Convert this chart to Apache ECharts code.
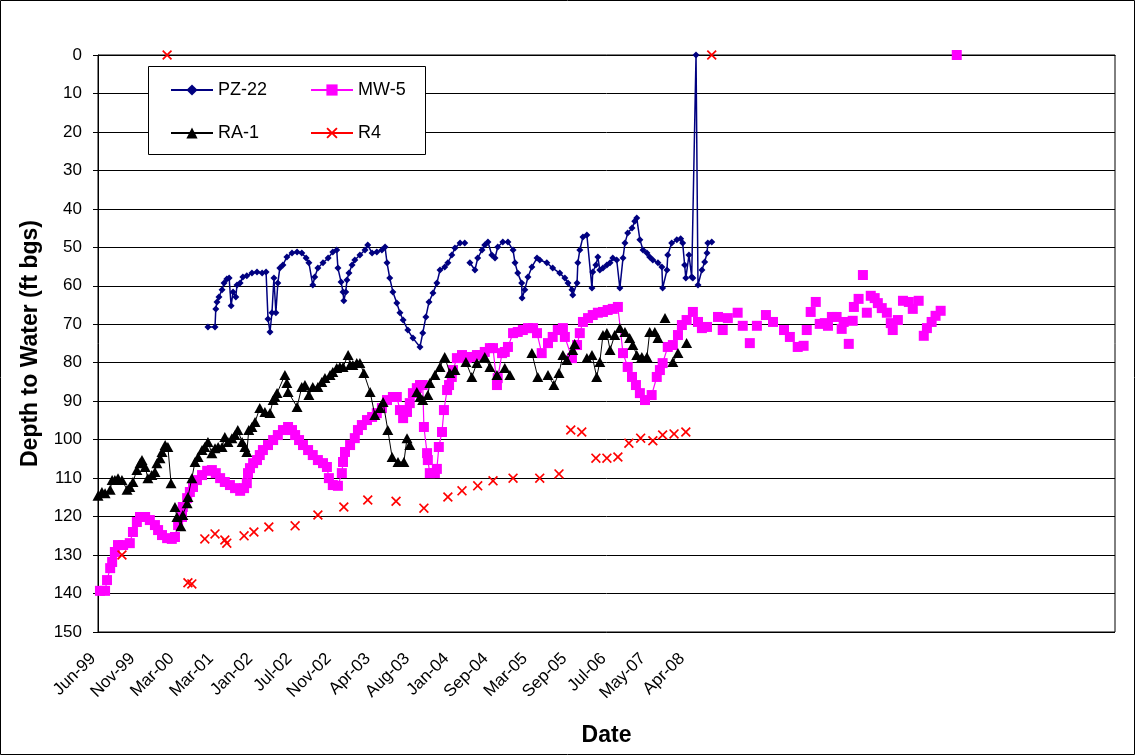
<!DOCTYPE html>
<html>
<head>
<meta charset="utf-8">
<script src="https://cdn.jsdelivr.net/npm/echarts@6/dist/echarts.min.js"></script>
<style>
  html, body { margin: 0; padding: 0; background: #ffffff; }
  #chart { width: 1135px; height: 755px; }
</style>
</head>
<body>
<div id="chart"></div>
<script>
// Date labels shown every LABEL_STEP rows of the record sheet
const dateLabels = ['Jun-99', 'Nov-99', 'Mar-00', 'Mar-01', 'Jan-02', 'Jul-02', 'Nov-02', 'Apr-03',
  'Aug-03', 'Jan-04', 'Sep-04', 'Mar-05', 'Sep-05', 'Jul-06', 'May-07', 'Apr-08'];
const LABEL_STEP = 10;
const ROW_COUNT = 259;

// Depth to water (ft bgs) as [record row, depth]; null marks a break in the record
const pz22 = [
  [28.0, 70.7], [29.8, 70.7], [30.0, 66], [30.3, 64.2], [30.8, 62.9], [31.6, 61], [32.1, 59.3],
  [32.8, 58.2], [33.4, 58], [33.9, 65.2], [34.4, 61.6], [35.1, 62.9], [35.4, 59.8], [36.2, 59.3],
  [36.9, 57.7], [37.9, 57.4], [39.2, 56.7], [40.5, 56.4], [41.8, 56.7], [42.8, 56.4], [43.3, 68.6],
  [43.8, 72], [44.3, 67], [44.8, 58], [45.3, 67], [45.8, 59.3], [46.3, 55.4], [47.1, 54.6],
  [48.1, 52.5], [49.4, 51.5], [50.7, 51.2], [51.9, 51.5], [53.0, 52.8], [53.7, 54], [54.7, 59.8],
  [55.2, 57.7], [56.0, 55.4], [57.3, 54], [58.6, 52.8], [59.8, 51.2], [60.8, 50.7], [61.1, 55.4],
  [61.9, 59], [62.4, 61.6], [62.6, 63.9], [63.1, 61.6], [63.4, 58.5], [63.9, 56.7], [64.7, 54.6],
  [65.4, 53.3], [66.7, 52], [68.0, 50.7], [68.7, 49.4], [69.8, 51.5], [71.0, 51.2], [72.3, 50.7],
  [73.1, 49.9], [73.6, 54], [74.3, 58], [75.1, 61.6], [76.1, 64.5], [76.9, 67], [77.7, 68.9],
  [78.9, 71.5], [80.2, 73.6], [82.0, 75.9], [82.7, 72.3], [83.5, 68.1], [84.3, 64.2], [85.3, 61.9],
  [86.3, 59.3], [87.1, 55.9], [88.3, 55.1], [89.1, 54], [90.1, 52], [90.9, 50.2], [92.2, 48.9],
  [93.4, 48.9], null,
  [94.7, 54], [96.0, 55.9], [96.7, 52.8], [97.8, 50.7], [98.5, 49.4], [99.3, 48.6], [100.3, 52],
  [101.1, 52.8], [101.8, 49.9], [103.1, 48.6], [104.4, 48.6], [105.7, 50.7], [106.2, 54],
  [106.9, 56.7], [107.9, 59.3], [108.0, 63.2], [108.7, 61], [109.5, 57.7], [110.5, 55.1],
  [111.8, 52.8], [112.5, 53.3], [114.3, 54], [115.8, 55.4], [117.6, 56.7], [118.9, 58], [119.7, 59.3],
  [120.7, 61], [120.9, 62.4], [122.0, 59.3], [122.2, 54], [122.7, 50.7], [123.5, 47.3], [124.5, 46.8],
  [125.8, 60.6], [126.0, 56.4], [126.8, 54.6], [127.3, 52.5], [127.8, 55.9], [128.6, 55.4],
  [129.6, 54.6], [130.4, 54], [131.1, 52.8], [132.1, 53.3], [132.9, 60.6], [133.7, 52.8],
  [134.2, 48.9], [134.9, 46.3], [136.0, 45], [136.7, 43.2], [137.2, 42.4], [138.0, 48], [138.8, 50.7],
  [139.8, 51.5], [140.5, 52.5], [141.3, 53.3], [142.6, 54], [143.6, 55.1], [143.8, 60.6],
  [144.9, 55.9], [145.1, 52], [146.1, 48.9], [147.4, 48], [148.4, 47.8], [148.9, 48.9], [149.4, 54.6],
  [149.7, 58], [150.5, 52], [151.2, 57.7], [151.5, 58], [152.3, 0], [152.8, 59.8], [153.8, 55.9],
  [154.5, 53.8], [155.1, 51.5], [155.3, 48.9], [156.3, 48.6]
];

const mw5 = [
  [0.5, 139.3], [1.8, 139.3], [2.3, 136.5], [3.1, 133.4], [3.6, 131.8], [4.3, 129.2], [5.1, 127.4],
  [6.4, 127.4], [8.1, 126.9], [8.9, 124], [9.9, 121.4], [10.7, 120.1], [12.0, 120.1], [13.2, 120.9],
  [14.5, 122.2], [15.3, 123.5], [16.3, 124.8], [17.6, 125.6], [18.8, 125.8], [19.6, 125.3],
  [20.4, 122.2], [21.4, 120.1], [21.6, 117.5], [22.7, 115.2], [23.4, 113.6], [24.2, 112.3],
  [25.2, 110.5], [26.5, 109.2], [27.8, 108.1], [29.0, 107.9], [30.0, 108.7], [31.1, 110],
  [32.3, 111], [33.6, 111.8], [34.9, 112.6], [36.2, 113.3], [37.2, 112.6], [37.9, 111.3],
  [38.2, 108.7], [38.7, 107.4], [39.5, 106.1], [40.5, 105.3], [41.2, 104], [42.0, 102.7],
  [43.3, 101.4], [44.6, 100.1], [45.8, 98.8], [47.1, 97.5], [48.4, 96.7], [49.4, 97.5], [50.2, 98.8],
  [51.2, 100.1], [52.2, 101.4], [53.5, 102.7], [54.7, 104], [56.0, 105.3], [57.3, 106.1],
  [58.3, 107.1], [58.8, 110], [59.8, 111.8], [61.1, 112], [62.1, 108.7], [62.4, 105.8], [62.9, 103.2],
  [64.2, 101.4], [65.4, 99.6], [66.2, 97.5], [67.2, 96.2], [68.5, 94.9], [69.8, 94.1], [71.0, 93.1],
  [72.3, 91.8], [73.6, 89.7], [75.1, 88.9], [76.1, 88.9], [76.9, 92.3], [77.7, 94.4], [78.7, 92.8],
  [79.4, 90.5], [80.2, 87.9], [81.2, 86.6], [82.0, 85.8], [82.7, 85.8], [83.0, 96.7], [83.8, 103.5],
  [84.0, 105.3], [84.5, 108.7], [85.8, 108.7], [86.3, 107.6], [86.8, 101.9], [87.6, 98], [88.1, 92.3],
  [88.9, 87.1], [89.4, 85.8], [90.1, 83.7], [90.4, 81.9], [91.4, 78.8], [92.7, 78], [93.9, 78.8],
  [95.2, 78.5], [96.5, 78], [97.3, 78], [98.5, 77.2], [99.8, 76.2], [100.6, 76.2], [101.6, 85.8],
  [101.8, 84], [102.9, 77.5], [103.6, 77.2], [104.4, 75.9], [105.7, 72.3], [106.9, 72], [108.2, 71.5],
  [109.5, 71], [110.8, 71], [111.8, 72.3], [113.0, 77.5], [114.6, 74.9], [115.8, 73.3], [117.1, 71.5],
  [118.4, 71], [118.9, 73.3], [120.7, 78.8], [122.0, 75.4], [122.7, 72.3], [123.5, 69.4],
  [124.8, 68.4], [126.0, 67.6], [127.3, 67], [128.6, 66.8], [129.8, 66.3], [131.1, 66], [132.4, 65.5],
  [133.7, 77.5], [134.9, 81.1], [136.0, 83.7], [137.0, 85.8], [138.0, 87.9], [139.3, 89.7],
  [141.0, 88.4], [142.3, 83.7], [143.1, 81.9], [143.8, 80.1], [145.1, 75.9], [146.4, 75.4],
  [147.7, 72.8], [148.7, 70.2], [149.9, 68.9], [151.5, 66.8], [152.8, 69.4], [153.8, 71], [155.1, 70.7]
];

// Later MW-5 readings, each on its own row
const mw5Late = [
  [157.9, 68.1], [159.1, 71.5], [160.4, 68.4], [162.9, 67], [164.2, 70.4], [166.0, 74.9],
  [167.8, 70.4], [170.1, 67.6], [171.9, 69.4], [174.7, 71.5], [176.2, 73.3], [178.2, 75.9],
  [179.7, 75.6], [180.5, 71.5], [181.5, 66.8], [182.8, 64.2], [183.8, 69.9], [185.1, 69.7],
  [185.9, 70.4], [186.9, 68.1], [188.1, 68.1], [189.4, 71.2], [189.9, 69.4], [191.2, 75.1],
  [192.2, 69.1], [192.5, 65.5], [193.7, 63.4], [194.8, 57.2], [195.8, 67], [196.8, 62.6],
  [197.8, 63.2], [198.6, 64.5], [199.6, 65.8], [200.9, 67], [201.9, 69.7], [202.4, 71.5],
  [203.7, 68.9], [205.0, 63.9], [206.5, 64.2], [207.5, 66], [209.0, 63.9], [210.3, 73], [211.1, 71],
  [212.3, 69.4], [213.3, 67.8], [214.6, 66.5], [218.7, 0]
];

const ra1 = [
  [0, 114.6], [1.0, 113.6], [1.8, 113.9], [3.1, 113], [3.6, 110.5], [4.3, 110.5], [5.1, 110],
  [6.1, 110.5], [7.4, 113], [8.1, 112.3], [8.9, 111], [9.9, 107.9], [10.7, 106.1], [11.2, 105.3],
  [12.0, 107.1], [12.7, 110], [13.7, 109.2], [14.5, 108.4], [15.0, 106.1], [15.8, 104.8],
  [16.3, 103.2], [17.1, 101.4], [17.8, 101.9], [18.6, 111.3], null,
  [19.6, 117.5], [20.1, 120.1], [21.1, 122.5], [21.6, 119.6], [22.7, 116.5], [22.9, 114.9],
  [23.9, 110], [24.7, 105.8], [25.5, 104.5], [26.5, 102.7], [27.2, 101.9], [28.0, 100.6],
  [29.0, 103.5], [29.8, 102.2], [30.6, 101.9], [31.6, 101.9], [32.3, 99.3], [33.1, 100.6],
  [34.1, 99.6], [34.9, 98.8], [35.6, 97.5], [36.7, 100.6], [37.4, 101.9], [37.9, 103.2],
  [38.4, 97.5], [39.2, 96.7], [40.0, 95.4], [41.2, 91.8], [42.5, 92.8], [43.8, 93.1], [44.6, 89.7],
  [45.1, 88.9], [45.6, 87.9], [47.6, 83.2], [48.1, 85.3], [48.4, 87.6], [50.7, 91.5], [51.9, 86.3],
  [52.7, 85.8], [53.7, 88.4], [54.7, 86.3], [56.0, 86.3], [57.0, 85], [57.8, 84], [59.1, 83.2],
  [59.8, 82.4], [60.8, 81.4], [61.6, 81.1], [62.4, 81.1], [63.7, 78], [64.2, 80.6], [64.9, 80.6],
  [65.9, 80.1], [66.7, 80.1], [67.7, 82.7], [69.3, 87.6], [70.5, 93.6], [71.8, 91.8], [72.6, 90.2],
  [73.8, 97.5], [74.9, 104.5], [76.4, 105.8], [77.9, 105.8], [78.7, 99.6], [79.4, 101.4], null,
  [81.2, 87.6], [82.0, 88.9], [82.7, 89.7], [84.0, 88.4], [84.5, 85.3], [85.8, 83.2], [87.1, 81.1],
  [88.3, 78.5], [89.6, 82.7], [90.9, 81.9], null,
  [93.7, 79.8], [95.2, 83.7], [96.5, 80.1], [98.5, 78.5], [99.8, 81.1], [101.6, 83.2], [103.6, 81.4],
  [104.9, 83.2], null,
  [110.5, 77.5], [112.0, 83.7], null, [114.6, 83.2], [116.1, 85.8], [117.4, 82.7], [118.4, 78],
  [119.4, 79.3], [120.9, 76.7], [121.4, 75.1], null,
  [124.5, 78.8], [125.8, 78], [127.0, 83.7], [127.8, 79.8], [128.6, 72.8], [129.6, 72.3],
  [130.4, 76.7], [131.6, 72.8], [132.9, 71], [134.2, 72], [135.4, 73.6], [136.2, 75.4], [137.2, 78],
  [138.5, 78.5], [139.8, 78.5], [140.5, 72], [141.8, 72], [142.6, 73.6], null, [144.4, 68.4], null,
  [146.4, 79.8], [147.7, 77.5], null, [149.9, 74.9]
];

const r4 = [
  [6.1, 130], [17.6, 0], [22.9, 137.2], [23.9, 137.5], [27.2, 125.8], [29.8, 124.5], [32.3, 126.1],
  [32.8, 126.9], [37.2, 125], [39.7, 124], [43.5, 122.7], [50.2, 122.4], [56.0, 119.6], [62.6, 117.5],
  [68.7, 115.7], [75.9, 116], [83.0, 117.8], [89.1, 114.9], [92.7, 113.3], [96.7, 112], [100.6, 110.7],
  [105.7, 110], [112.5, 110], [117.4, 108.9], [120.4, 97.5], [123.2, 98], [126.8, 104.8],
  [129.6, 104.8], [132.4, 104.5], [135.2, 100.9], [138.2, 99.6], [141.3, 100.3], [143.8, 98.8],
  [146.7, 98.5], [149.7, 98], [156.3, 0]
];

// Readings with no neighbour on the next row get no connecting line
function separated(points) {
  const out = [];
  points.forEach(function (p, i) { if (i) out.push(null); out.push(p); });
  return out;
}

const FONT = '"Liberation Sans", Arial, sans-serif';
const X_MARK = 'path://M0,1.2 L1.2,0 L5,3.8 L8.8,0 L10,1.2 L6.2,5 L10,8.8 L8.8,10 L5,6.2 L1.2,10 L0,8.8 L3.8,5 Z';

const legendCommon = {
  orient: 'vertical', top: 81, itemGap: 25, itemWidth: 42, itemHeight: 14, padding: 0,
  textStyle: { fontFamily: FONT, fontSize: 18, color: '#000' }, z: 5
};

const chart = echarts.init(document.getElementById('chart'), null, { renderer: 'canvas' });

chart.setOption({
  backgroundColor: '#ffffff',
  animation: false,
  textStyle: { fontFamily: FONT, color: '#000' },
  grid: {
    left: 98, top: 55, right: 20, bottom: 123,
    show: true, borderColor: '#000', borderWidth: 1, backgroundColor: 'transparent'
  },
  graphic: [
    {
      type: 'rect', z: 0, silent: true,
      shape: { x: 0.5, y: 0.5, width: 1134, height: 754 },
      style: { fill: 'none', stroke: '#000', lineWidth: 1 }
    },
    {
      type: 'rect', z: 3, silent: true,
      shape: { x: 148.5, y: 66.5, width: 277, height: 88 },
      style: { fill: '#fff', stroke: '#000', lineWidth: 1 }
    }
  ],
  legend: [
    Object.assign({ left: 170, data: ['PZ-22', 'RA-1'] }, legendCommon),
    Object.assign({ left: 310, data: ['MW-5', 'R4'] }, legendCommon)
  ],
  xAxis: {
    type: 'value', min: 0, max: ROW_COUNT, interval: LABEL_STEP,
    name: 'Date', nameLocation: 'middle', nameGap: 92,
    nameTextStyle: { fontFamily: FONT, fontSize: 23, fontWeight: 'bold', color: '#000' },
    axisLine: { show: true, lineStyle: { color: '#000', width: 1 } },
    axisTick: { show: false },
    splitLine: { show: false },
    axisLabel: {
      rotate: 45, margin: 19, padding: [0, 7, 0, 0],
      fontFamily: FONT, fontSize: 17, color: '#000',
      showMaxLabel: false,
      formatter: function (v) {
        const k = Math.round(v / LABEL_STEP);
        return Math.abs(v - k * LABEL_STEP) < 1e-6 && dateLabels[k] ? dateLabels[k] : '';
      }
    }
  },
  yAxis: {
    type: 'value', inverse: true, min: 0, max: 150, interval: 10,
    name: 'Depth to Water (ft bgs)', nameLocation: 'middle', nameGap: 56,
    nameTextStyle: { fontFamily: FONT, fontSize: 23, fontWeight: 'bold', color: '#000' },
    axisLine: { show: true, lineStyle: { color: '#000', width: 1 } },
    axisTick: { show: true, inside: false, length: 5, lineStyle: { color: '#000' } },
    splitLine: { show: true, lineStyle: { color: '#000', width: 1 } },
    axisLabel: { margin: 16, fontFamily: FONT, fontSize: 17, color: '#000' }
  },
  series: [
    {
      name: 'PZ-22', type: 'line', data: pz22, z: 2,
      symbol: 'diamond', symbolSize: 7, showAllSymbol: true,
      itemStyle: { color: '#000080' },
      lineStyle: { color: '#000080', width: 1.5 }
    },
    {
      name: 'MW-5', type: 'line', data: mw5.concat([null], separated(mw5Late)), z: 3,
      symbol: 'rect', symbolSize: 10, showAllSymbol: true,
      itemStyle: { color: '#ff00ff' },
      lineStyle: { color: '#ff00ff', width: 1.2 }
    },
    {
      name: 'RA-1', type: 'line', data: ra1, z: 4,
      symbol: 'triangle', symbolSize: [11, 10], showAllSymbol: true,
      itemStyle: { color: '#000000' },
      lineStyle: { color: '#000000', width: 1 }
    },
    {
      name: 'R4', type: 'line', data: separated(r4), z: 5,
      symbol: X_MARK, symbolSize: 10, showAllSymbol: true,
      itemStyle: { color: '#ff0000' },
      lineStyle: { color: '#ff0000', width: 1 }
    }
  ]
});
</script>
</body>
</html>
